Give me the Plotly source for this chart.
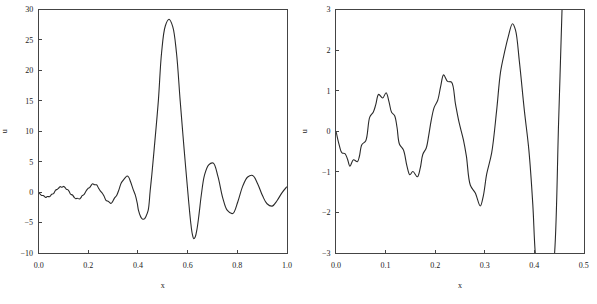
import plotly.graph_objects as go
from plotly.subplots import make_subplots

x_vals = [0.000, 0.006, 0.012, 0.018, 0.023, 0.028, 0.035, 0.043, 0.047, 0.052,
          0.060, 0.068, 0.075, 0.080, 0.086, 0.094, 0.101, 0.107, 0.112, 0.118,
          0.123, 0.128, 0.136, 0.143, 0.149, 0.155, 0.164, 0.170, 0.175, 0.182,
          0.187, 0.192, 0.198, 0.205, 0.211, 0.217, 0.225, 0.233, 0.241, 0.248,
          0.257, 0.263, 0.271, 0.281, 0.291, 0.297, 0.304, 0.314, 0.324, 0.332,
          0.340, 0.347, 0.356, 0.362, 0.370, 0.380, 0.389, 0.397, 0.402, 0.411,
          0.417, 0.422, 0.427, 0.432, 0.441, 0.449, 0.456, 0.465, 0.482, 0.495,
          0.510, 0.525, 0.540, 0.555, 0.570, 0.586, 0.603, 0.612, 0.619, 0.625,
          0.631, 0.638, 0.646, 0.655, 0.668, 0.685, 0.703, 0.722, 0.742, 0.760,
          0.782, 0.802, 0.822, 0.842, 0.862, 0.882, 0.902, 0.920, 0.941, 0.960,
          0.980, 1.000]
u_vals = [0.00, -0.32, -0.53, -0.55, -0.68, -0.86, -0.70, -0.75, -0.62, -0.33,
          -0.23, 0.35, 0.47, 0.65, 0.91, 0.82, 0.95, 0.72, 0.47, 0.39,
          0.10, -0.32, -0.46, -0.85, -1.07, -0.99, -1.12, -0.90, -0.57, -0.41,
          -0.10, 0.27, 0.59, 0.76, 1.10, 1.39, 1.23, 1.21, 0.67, 0.23,
          -0.21, -0.61, -1.33, -1.52, -1.84, -1.60, -1.05, -0.53, 0.51, 1.47,
          1.95, 2.31, 2.65, 2.50, 1.71, 0.51, -0.45, -1.80, -3.00, -4.05,
          -4.38, -4.45, -4.35, -4.00, -3.00, 0.20, 3.00, 7.00, 15.00, 22.90,
          27.30, 28.40, 27.20, 22.90, 15.00, 7.00, -1.00, -4.80, -6.90, -7.65,
          -7.30, -6.00, -3.60, -0.50, 2.80, 4.50, 4.78, 2.60, -1.00, -3.00,
          -3.50, -1.60, 1.00, 2.50, 2.76, 1.40, -0.60, -1.90, -2.28, -1.40,
          -0.10, 0.90]

left_xticks = [0.0, 0.2, 0.4, 0.6, 0.8, 1.0]
left_yticks = [-10, -5, 0, 5, 10, 15, 20, 25, 30]
right_xticks = [0.0, 0.1, 0.2, 0.3, 0.4, 0.5]
right_yticks = [-3, -2, -1, 0, 1, 2, 3]

fig = make_subplots(rows=1, cols=2)
line_style = dict(color="#2a2a2a", width=1.1, shape="spline", smoothing=1.0)
fig.add_trace(go.Scatter(x=x_vals, y=u_vals, mode="lines", line=line_style,
                         showlegend=False), row=1, col=1)
fig.add_trace(go.Scatter(x=x_vals, y=u_vals, mode="lines", line=line_style,
                         showlegend=False), row=1, col=2)

W, H = 597, 304
font = dict(family="Liberation Serif", size=8, color="#222222")
axis_common = dict(showgrid=False, zeroline=False, showline=True, mirror=True,
                   linecolor="#444444", linewidth=1, ticks="inside", ticklen=3,
                   tickcolor="#444444", tickfont=font)

fig.update_layout(
    width=W, height=H, margin=dict(l=0, r=0, t=0, b=0),
    paper_bgcolor="white", plot_bgcolor="white", font=font,
    xaxis=dict(domain=[34.3 / W, 286.7 / W], range=[0, 1], tickvals=left_xticks,
               ticktext=[f"{v:.1f}" for v in left_xticks], ticklabelstandoff=4,
               title=dict(text="x", font=font, standoff=13), **axis_common),
    yaxis=dict(domain=[1 - 256.7 / H, 1 - 5.7 / H], range=[-10, 30], tickvals=left_yticks,
               ticklabelstandoff=3,
               title=dict(text="u", font=font, standoff=13), **axis_common),
    xaxis2=dict(domain=[336.7 / W, 588.7 / W], range=[0, 0.5], tickvals=right_xticks,
                ticktext=[f"{v:.1f}" for v in right_xticks], ticklabelstandoff=4,
                title=dict(text="x", font=font, standoff=13), **axis_common),
    yaxis2=dict(domain=[1 - 256.7 / H, 1 - 5.7 / H], range=[-3, 3], tickvals=right_yticks,
                ticklabelstandoff=3,
                title=dict(text="u", font=font, standoff=13), **axis_common),
)

fig.write_html("out.html")
